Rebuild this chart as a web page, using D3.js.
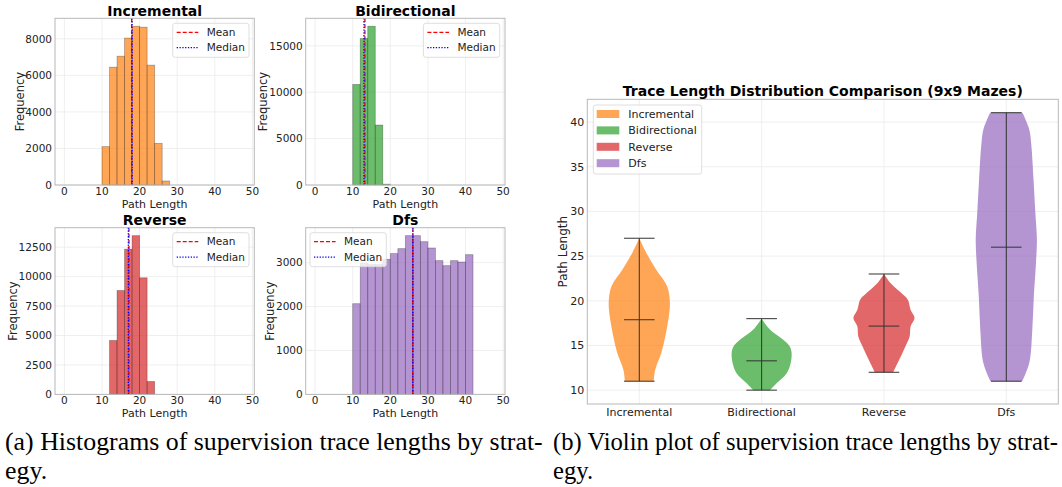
<!DOCTYPE html>
<html>
<head>
<meta charset="utf-8">
<script src="https://cdn.jsdelivr.net/npm/d3@7"></script>
<style>
  body { margin: 0; background: #fff; }
  svg { display: block; }
</style>
</head>
<body>
<div id="chart"></div>
<script>
// strategies and their colours
var strategies = ['Incremental', 'Bidirectional', 'Reverse', 'Dfs'];
var colors = ['#ff7f0e', '#2ca02c', '#d62728', '#9467bd'];

// histogram counts, bins of width 2 starting at binStarts
var binWidth = 2;
var binStarts = [10, 10, 12, 10];
var incrementalCounts = [2100, 6450, 7050, 8040, 8690, 8640, 6560, 2280, 220];
var bidirectionalCounts = [10840, 15790, 17110, 6460, 90];
var reverseCounts = [4580, 8820, 12330, 13480, 9900, 1100];
var dfsCounts = [2065, 2990, 2960, 2960, 3075, 3205, 3318, 3614, 3614, 3477, 3333, 3045, 2931, 3045, 3014, 3181];
var means = [17.88, 13.25, 17.17, 26.0];
var medians = [18, 13, 17, 26];

var histTicksX = [0, 10, 20, 30, 40, 50];
var histTicksY = [
  [0, 2000, 4000, 6000, 8000],
  [0, 5000, 10000, 15000],
  [0, 2500, 5000, 7500, 10000, 12500],
  [0, 1000, 2000, 3000]
];

// violin outlines: [path length, relative half width]
var incrementalViolin = [[11, 0.47], [12.28, 0.52], [14.15, 0.72], [16.01, 0.85], [17.88, 0.95], [19.75, 1.0], [21.62, 0.91], [23.49, 0.55], [25.36, 0.23], [27, 0.0]];
var bidirectionalViolin = [[10, 0.27], [10.78, 0.49], [11.9, 0.82], [13.03, 0.95], [14.15, 0.98], [14.89, 0.92], [15.64, 0.71], [16.76, 0.28], [18, 0.0]];
var reverseViolin = [[12, 0.3], [12.65, 0.39], [13.77, 0.55], [14.89, 0.7], [16.01, 0.84], [17.13, 0.87], [18.07, 1.0], [19.0, 0.87], [20.12, 0.78], [20.87, 0.57], [22.0, 0.21], [23, 0.0]];
var dfsViolin = [[11, 0.52], [13.03, 0.75], [16.76, 0.85], [20.5, 0.9], [24.24, 0.97], [26.85, 1.0], [29.84, 0.95], [33.58, 0.89], [37.31, 0.82], [39.18, 0.75], [41.05, 0.53]];
var violinMeans = [17.88, 13.28, 17.17, 26.0];
var violinTicksY = [10, 15, 20, 25, 30, 35, 40];

var captions = [
  ['(a) Histograms of supervision trace lengths by strat-', 'egy.'],
  ['(b) Violin plot of supervision trace lengths by strat-', 'egy.']
];

var counts = [incrementalCounts, bidirectionalCounts, reverseCounts, dfsCounts];
var violins = [incrementalViolin, bidirectionalViolin, reverseViolin, dfsViolin];

var font = 'DejaVu Sans, sans-serif';
var spineColor = '#b8b8b8';
var gridColor = '#ebebeb';

var svg = d3.select('#chart').append('svg')
    .attr('width', 1062)
    .attr('height', 487);

// ---------- histograms ----------
var panels = [
  { left: 55, top: 18.3, legend: 'right', ylabX: 20 },
  { left: 305.7, top: 18.3, legend: 'right', ylabX: 263 },
  { left: 55, top: 227.7, legend: 'right', ylabX: 13 },
  { left: 305.7, top: 227.7, legend: 'left', ylabX: 270 }
];
var pw = 199.3, ph = 166.7;

panels.forEach(function (p, k) {
  var g = svg.append('g').attr('transform', 'translate(' + p.left + ',' + p.top + ')');
  var data = counts[k];

  var x = d3.scaleLinear().domain([-2.5, 50.5]).range([0, pw]);
  var y = d3.scaleLinear().domain([0, d3.max(data) * 1.05]).range([ph, 0]);

  // grid
  g.selectAll('line.gx').data(histTicksX).enter().append('line')
      .attr('x1', function (d) { return x(d); }).attr('x2', function (d) { return x(d); })
      .attr('y1', 0).attr('y2', ph)
      .attr('stroke', gridColor).attr('stroke-width', 0.8);
  g.selectAll('line.gy').data(histTicksY[k]).enter().append('line')
      .attr('x1', 0).attr('x2', pw)
      .attr('y1', function (d) { return y(d); }).attr('y2', function (d) { return y(d); })
      .attr('stroke', gridColor).attr('stroke-width', 0.8);

  // bars
  g.selectAll('rect.bar').data(data).enter().append('rect')
      .attr('x', function (d, i) { return x(binStarts[k] + i * binWidth); })
      .attr('width', x(binWidth) - x(0))
      .attr('y', function (d) { return y(d); })
      .attr('height', function (d) { return ph - y(d); })
      .attr('fill', colors[k])
      .attr('fill-opacity', 0.7)
      .attr('stroke', '#000')
      .attr('stroke-opacity', 0.3)
      .attr('stroke-width', 0.8);

  // mean and median lines
  g.append('line')
      .attr('x1', x(means[k])).attr('x2', x(means[k]))
      .attr('y1', 0).attr('y2', ph)
      .attr('stroke', 'red').attr('stroke-width', 1.3)
      .attr('stroke-dasharray', '4,2');
  g.append('line')
      .attr('x1', x(medians[k])).attr('x2', x(medians[k]))
      .attr('y1', 0).attr('y2', ph)
      .attr('stroke', 'blue').attr('stroke-width', 1.3)
      .attr('stroke-dasharray', '1.3,1.5');

  // spines
  g.append('rect')
      .attr('width', pw).attr('height', ph)
      .attr('fill', 'none').attr('stroke', spineColor).attr('stroke-width', 1);

  // tick labels
  g.selectAll('text.tx').data(histTicksX).enter().append('text')
      .attr('x', function (d) { return x(d); })
      .attr('y', ph + 10)
      .attr('text-anchor', 'middle')
      .attr('font-family', font).attr('font-size', 10.5).attr('fill', '#222')
      .text(function (d) { return d; });
  g.selectAll('text.ty').data(histTicksY[k]).enter().append('text')
      .attr('x', -3)
      .attr('y', function (d) { return y(d) + 3.8; })
      .attr('text-anchor', 'end')
      .attr('font-family', font).attr('font-size', 10.5).attr('fill', '#222')
      .text(function (d) { return d; });

  // axis labels and title
  g.append('text')
      .attr('x', pw / 2).attr('y', ph + 23)
      .attr('text-anchor', 'middle')
      .attr('font-family', font).attr('font-size', 11).attr('fill', '#222')
      .text('Path Length');
  g.append('text')
      .attr('transform', 'translate(' + (p.ylabX + 4 - p.left) + ',' + (ph / 2) + ') rotate(-90)')
      .attr('text-anchor', 'middle')
      .attr('font-family', font).attr('font-size', 11.5).attr('fill', '#222')
      .text('Frequency');
  g.append('text')
      .attr('x', pw / 2).attr('y', -2.5)
      .attr('text-anchor', 'middle')
      .attr('font-family', font).attr('font-size', 14).attr('font-weight', 'bold')
      .text(strategies[k]);

  // legend
  var lw = 76.3, lh = 34;
  var lx = p.legend === 'right' ? pw - 5.3 - lw : 4.3;
  var leg = g.append('g').attr('transform', 'translate(' + lx + ',5)');
  leg.append('rect')
      .attr('width', lw).attr('height', lh).attr('rx', 2.5)
      .attr('fill', '#fff').attr('fill-opacity', 0.8)
      .attr('stroke', '#d6d6d6').attr('stroke-width', 0.8);
  [['Mean', 'red', '4,2'], ['Median', 'blue', '1.3,1.5']].forEach(function (e, i) {
    var ly = 9 + i * 15.4;
    leg.append('line')
        .attr('x1', 4).attr('x2', 25.6).attr('y1', ly).attr('y2', ly)
        .attr('stroke', e[1]).attr('stroke-width', 1.3).attr('stroke-dasharray', e[2]);
    leg.append('text')
        .attr('x', 34).attr('y', ly + 3.8)
        .attr('font-family', font).attr('font-size', 10.5).attr('fill', '#222')
        .text(e[0]);
  });
});

// ---------- violin plot ----------
var vm = { left: 587.3, top: 99.3, right: 1058.3, bottom: 404 };
var vx = d3.scaleLinear().domain([0.575, 4.425]).range([vm.left, vm.right]);
var vy = d3.scaleLinear().domain([8.45, 42.55]).range([vm.bottom, vm.top]);
var unit = vx(1) - vx(0);

var vg = svg.append('g');

vg.selectAll('line.vgy').data(violinTicksY).enter().append('line')
    .attr('x1', vm.left).attr('x2', vm.right)
    .attr('y1', function (d) { return vy(d); }).attr('y2', function (d) { return vy(d); })
    .attr('stroke', gridColor).attr('stroke-width', 0.8);
vg.selectAll('line.vgx').data(strategies).enter().append('line')
    .attr('x1', function (d, i) { return vx(i + 1); }).attr('x2', function (d, i) { return vx(i + 1); })
    .attr('y1', vm.top).attr('y2', vm.bottom)
    .attr('stroke', gridColor).attr('stroke-width', 0.8);

violins.forEach(function (v, k) {
  var c = k + 1;
  var area = d3.area()
      .curve(d3.curveCatmullRom)
      .y(function (d) { return vy(d[0]); })
      .x0(function (d) { return vx(c) - d[1] * 0.25 * unit; })
      .x1(function (d) { return vx(c) + d[1] * 0.25 * unit; });
  vg.append('path')
      .datum(v)
      .attr('d', area)
      .attr('fill', colors[k])
      .attr('fill-opacity', 0.7);

  var lo = v[0][0], hi = v[v.length - 1][0];
  var stat = vg.append('g').attr('stroke', '#333').attr('stroke-width', 1);
  stat.append('line')
      .attr('x1', vx(c)).attr('x2', vx(c))
      .attr('y1', vy(lo)).attr('y2', vy(hi));
  [lo, hi, violinMeans[k]].forEach(function (val) {
    stat.append('line')
        .attr('x1', vx(c - 0.125)).attr('x2', vx(c + 0.125))
        .attr('y1', vy(val)).attr('y2', vy(val));
  });
});

vg.append('rect')
    .attr('x', vm.left).attr('y', vm.top)
    .attr('width', vm.right - vm.left).attr('height', vm.bottom - vm.top)
    .attr('fill', 'none').attr('stroke', spineColor).attr('stroke-width', 1);

vg.selectAll('text.vty').data(violinTicksY).enter().append('text')
    .attr('x', vm.left - 3)
    .attr('y', function (d) { return vy(d) + 4; })
    .attr('text-anchor', 'end')
    .attr('font-family', font).attr('font-size', 11).attr('fill', '#222')
    .text(function (d) { return d; });
vg.selectAll('text.vtx').data(strategies).enter().append('text')
    .attr('x', function (d, i) { return vx(i + 1); })
    .attr('y', vm.bottom + 11.5)
    .attr('text-anchor', 'middle')
    .attr('font-family', font).attr('font-size', 11).attr('fill', '#222')
    .text(function (d) { return d; });

vg.append('text')
    .attr('transform', 'translate(567,' + ((vm.top + vm.bottom) / 2) + ') rotate(-90)')
    .attr('text-anchor', 'middle')
    .attr('font-family', font).attr('font-size', 12).attr('fill', '#222')
    .text('Path Length');
vg.append('text')
    .attr('x', (vm.left + vm.right) / 2).attr('y', vm.top - 3)
    .attr('text-anchor', 'middle')
    .attr('font-family', font).attr('font-size', 14).attr('font-weight', 'bold')
    .text('Trace Length Distribution Comparison (9x9 Mazes)');

// violin legend
var vleg = vg.append('g').attr('transform', 'translate(593.3,105)');
vleg.append('rect')
    .attr('width', 108.4).attr('height', 69).attr('rx', 2.5)
    .attr('fill', '#fff').attr('fill-opacity', 0.8)
    .attr('stroke', '#d6d6d6').attr('stroke-width', 0.8);
strategies.forEach(function (s, i) {
  var ly = 9 + i * 16.4;
  vleg.append('rect')
      .attr('x', 3.4).attr('y', ly - 4)
      .attr('width', 22.6).attr('height', 8)
      .attr('fill', colors[i]).attr('fill-opacity', 0.7);
  vleg.append('text')
      .attr('x', 35).attr('y', ly + 4)
      .attr('font-family', font).attr('font-size', 11).attr('fill', '#222')
      .text(s);
});

// ---------- captions (Times-like, squeezed to the column width) ----------
var capX = [5, 553];
var capW = [538, 505];
captions.forEach(function (lines, k) {
  var first = svg.append('text')
      .attr('font-family', "'Liberation Serif', 'Times New Roman', serif")
      .attr('font-size', 25).attr('fill', '#000')
      .text(lines[0]);
  var sx = capW[k] / first.node().getComputedTextLength();
  lines.forEach(function (t, i) {
    var txt = i === 0 ? first : svg.append('text')
        .attr('font-family', "'Liberation Serif', 'Times New Roman', serif")
        .attr('font-size', 25).attr('fill', '#000')
        .text(t);
    txt.attr('transform', 'translate(' + capX[k] + ',' + (450 + i * 29) + ') scale(' + sx + ',1)');
  });
});
</script>
</body>
</html>
